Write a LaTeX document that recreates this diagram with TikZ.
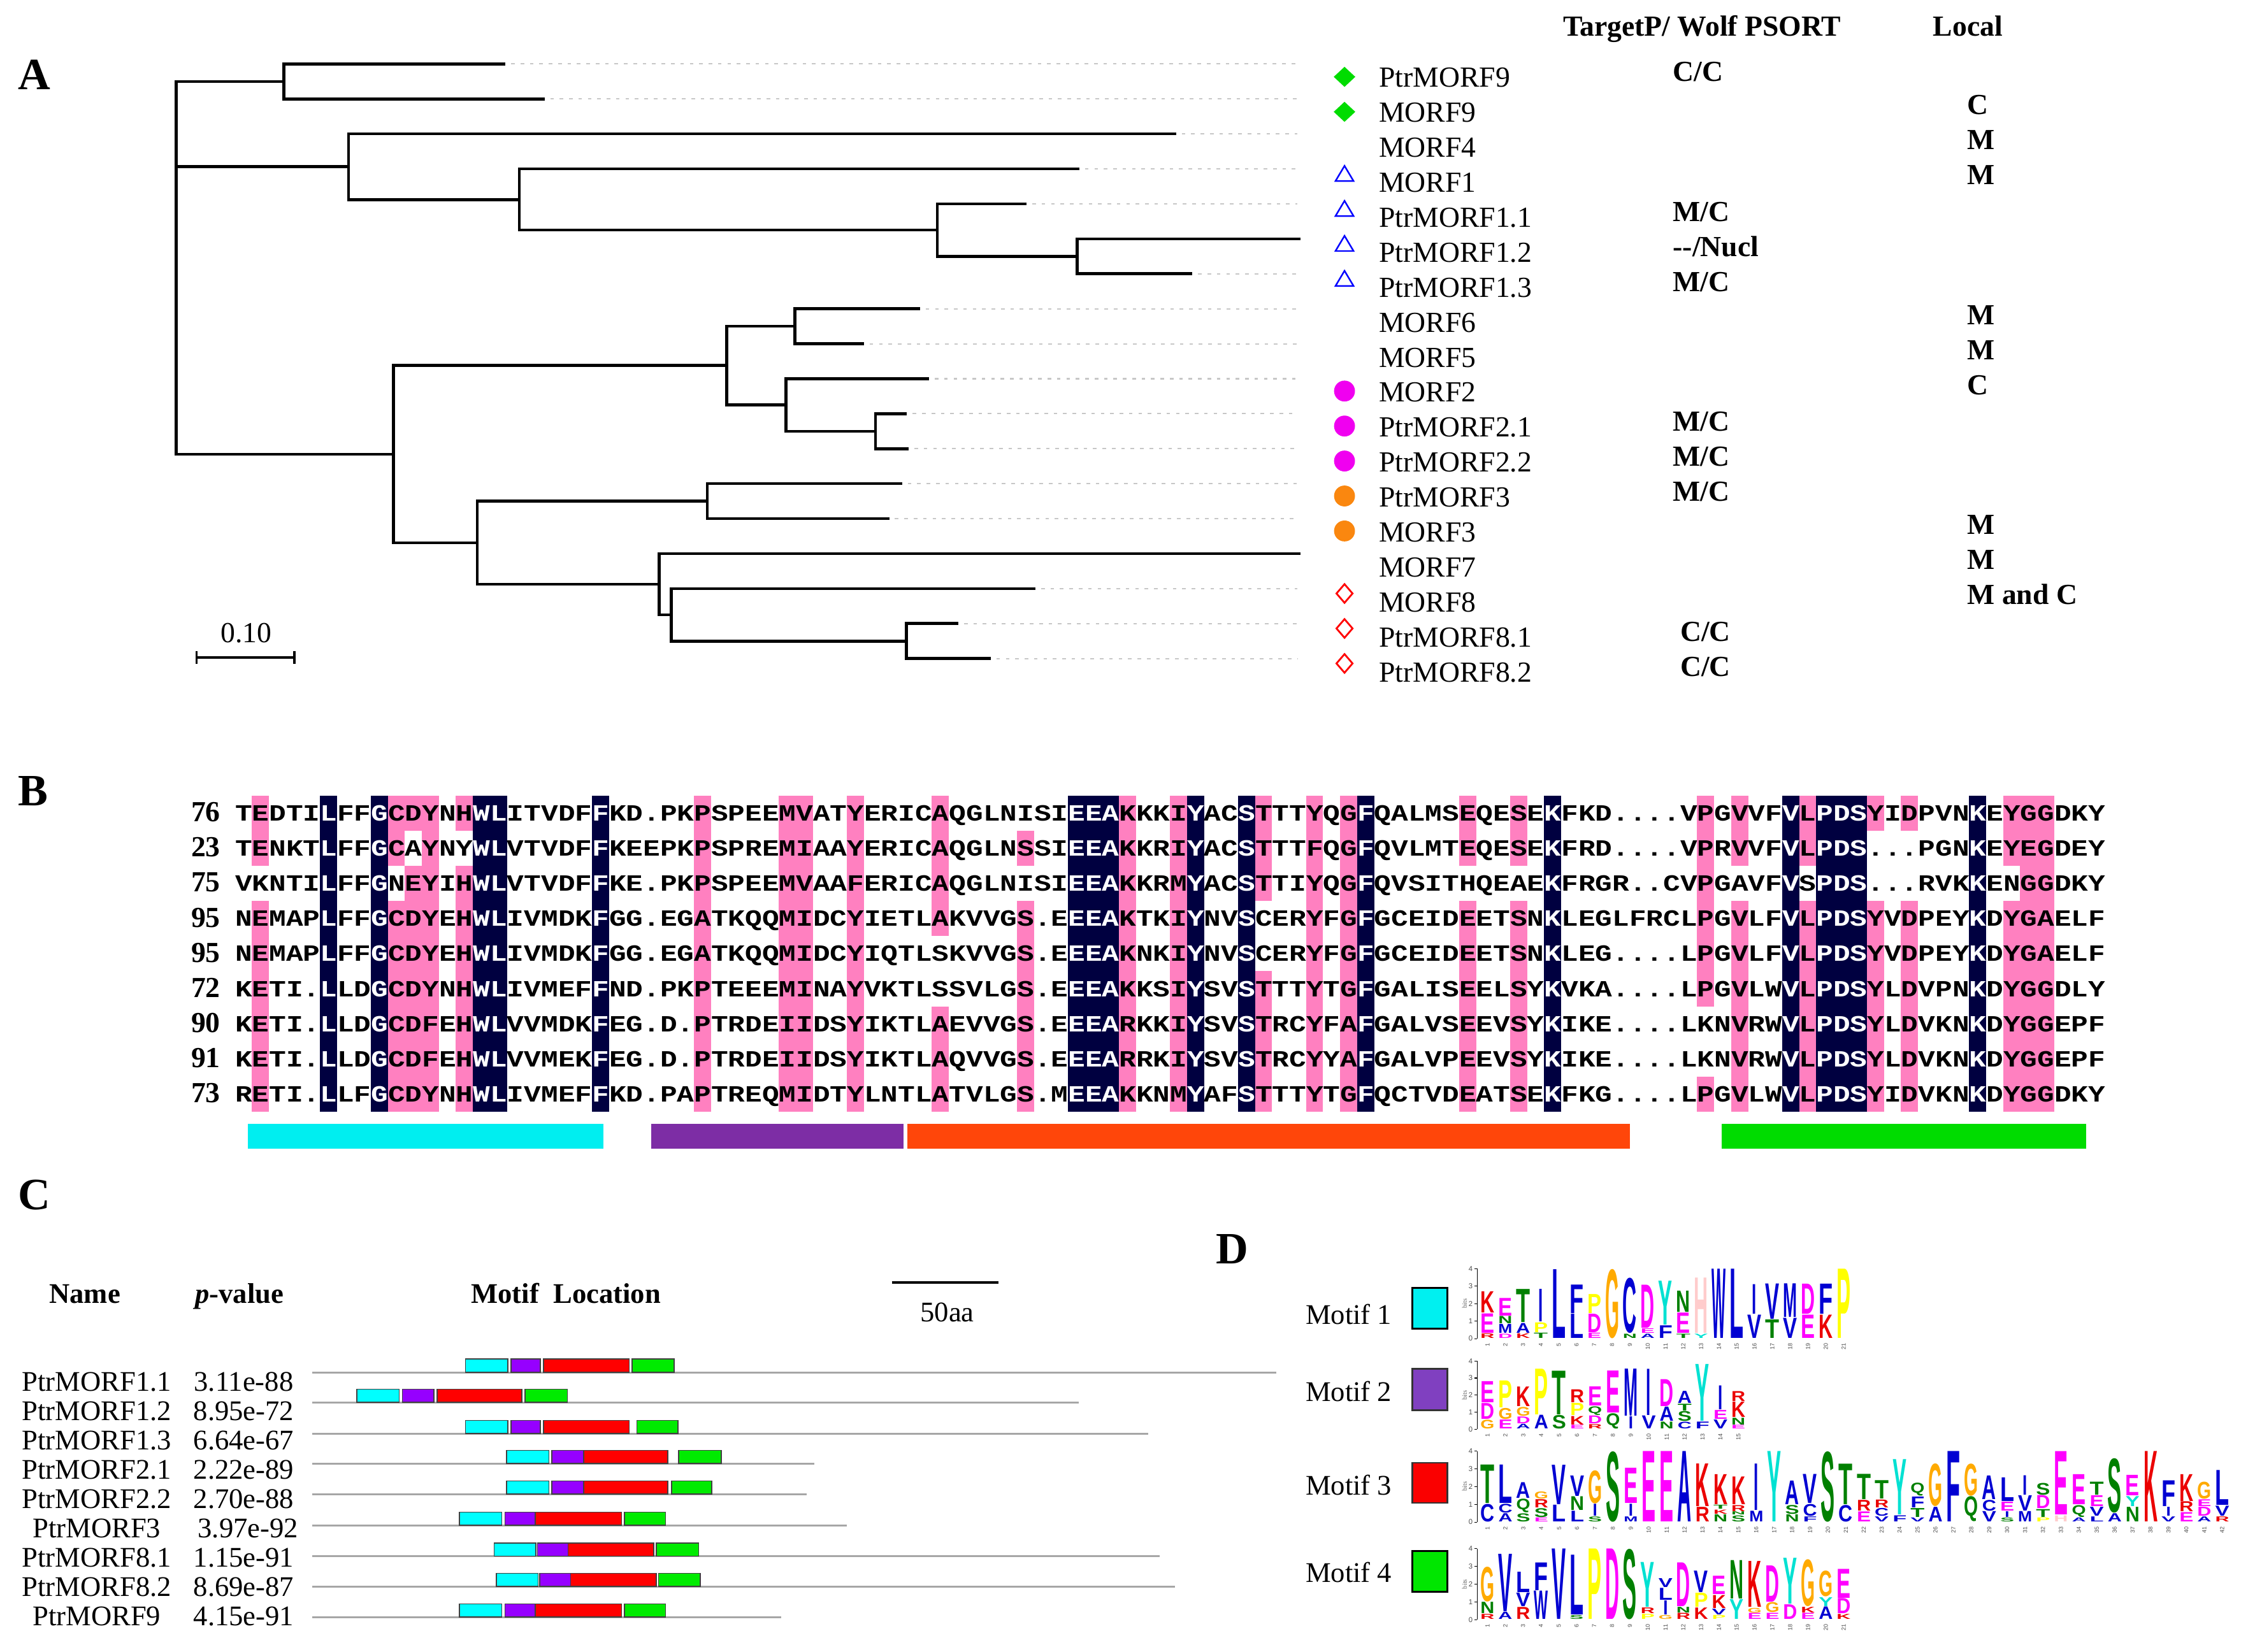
\documentclass[tikz,border=0pt]{standalone}
\usepackage{fontspec}
\setmainfont{Liberation Serif}
\newfontfamily\alnfont{Liberation Mono}
\newfontfamily\logofont{Liberation Sans}

\definecolor{symgreen}{RGB}{0,220,0}
\definecolor{symblue}{RGB}{0,0,255}
\definecolor{symmag}{RGB}{240,0,240}
\definecolor{symorange}{RGB}{250,135,15}
\definecolor{symred}{RGB}{255,0,0}
\definecolor{alnpink}{RGB}{255,128,192}
\definecolor{alnnavy}{RGB}{0,0,64}
\definecolor{barcyan}{RGB}{0,238,240}
\definecolor{barpurple}{RGB}{125,45,165}
\definecolor{barorange}{RGB}{255,70,10}
\definecolor{bargreen}{RGB}{0,220,0}
\definecolor{mcyan}{RGB}{0,255,255}
\definecolor{mpurple}{RGB}{150,0,255}
\definecolor{mred}{RGB}{255,0,0}
\definecolor{mgreen}{RGB}{0,235,0}
\definecolor{dcyan}{RGB}{0,240,240}
\definecolor{dpurple}{RGB}{128,64,192}
\definecolor{dred}{RGB}{250,0,0}
\definecolor{dgreen}{RGB}{0,230,0}
\definecolor{lgblue}{RGB}{0,0,210}
\definecolor{lggreen}{RGB}{0,128,0}
\definecolor{lgmag}{RGB}{255,0,255}
\definecolor{lgred}{RGB}{235,0,0}
\definecolor{lgorange}{RGB}{255,170,0}
\definecolor{lgyellow}{RGB}{255,255,0}
\definecolor{lgcyan}{RGB}{0,225,210}
\definecolor{lgpink}{RGB}{255,204,204}
\colorlet{lgA}{lgblue}\colorlet{lgC}{lgblue}\colorlet{lgF}{lgblue}\colorlet{lgI}{lgblue}
\colorlet{lgL}{lgblue}\colorlet{lgM}{lgblue}\colorlet{lgV}{lgblue}\colorlet{lgW}{lgblue}
\colorlet{lgN}{lggreen}\colorlet{lgQ}{lggreen}\colorlet{lgS}{lggreen}\colorlet{lgT}{lggreen}
\colorlet{lgD}{lgmag}\colorlet{lgE}{lgmag}
\colorlet{lgK}{lgred}\colorlet{lgR}{lgred}
\colorlet{lgG}{lgorange}\colorlet{lgP}{lgyellow}\colorlet{lgY}{lgcyan}\colorlet{lgH}{lgpink}

\newdimen\unitlen \unitlen=0.0225cm

% alignment row typesetting: white letters on the dark columns
\newcount\alncol
\def\setdk#1{\expandafter\def\csname dk#1\endcsname{}}
\setdk{6}\setdk{9}\setdk{15}\setdk{16}\setdk{22}\setdk{50}\setdk{51}\setdk{52}
\setdk{57}\setdk{60}\setdk{67}\setdk{78}\setdk{92}\setdk{94}\setdk{95}\setdk{96}\setdk{103}
\def\alnrow#1{\scalebox{1}[0.82]{\global\alncol=0\relax\alnscan#1\relax}}
\def\alnscan#1{\ifx\relax#1\else\global\advance\alncol by 1\relax\alnput{#1}\expandafter\alnscan\fi}
\def\alnput#1{\ifcsname dk\the\alncol\endcsname\textcolor{white}{#1}\else#1\fi}

\newcommand\cellrect[4]{%
  \pgfmathsetmacro\ca{163.7+(#2-1)*11.86}%
  \pgfmathsetmacro\cb{\ca+11.98}%
  \pgfmathsetmacro\rta{555+(#3-1)*24.5}%
  \pgfmathsetmacro\rtb{555+#4*24.5}%
  \fill[#1] (\ca,\rta) rectangle (\cb,\rtb);}

% sequence logo helpers
\def\lwI{3.2}
\newcommand\logocol[2]{%
  \pgfmathsetmacro\lcx{\lxo+(#1-1)*\lcw+1.2}%
  \xdef\cury{\lbase}%
  \foreach \lt/\bt in {#2}{%
    \ifcsname lw\lt\endcsname\edef\curw{\csname lw\lt\endcsname}\else\def\curw{9.8}\fi
    \pgfmathsetmacro\hpx{\bt*\lbit}%
    \pgfmathsetmacro\hdraw{max(\hpx-0.5,0.3)}%
    \pgfmathsetmacro\curx{\lcx+(9.8-\curw)/2}%
    \node[logol, text=lg\lt] at (\curx,\cury-0.25) {\resizebox*{\curw\unitlen}{\hdraw\unitlen}{\lt}};
    \pgfmathsetmacro\nexty{\cury-\hpx}%
    \xdef\cury{\nexty}%
  }%
  \node[posnum] at (\lcx+4.9,\lbase+3) {#1};
}
\newcommand\logoaxis[2]{%
  \draw[line width=0.4pt] (1030.3,#1) -- (1030.3,#1-4*#2);
  \foreach \k in {0,...,4}{%
    \draw[line width=0.3pt] (1030.3,#1-\k*#2) -- (1028.3,#1-\k*#2);
    \node[ticklab] at (1027.8,#1-\k*#2) {\k};}
  \node[rotate=90, inner sep=0pt, font=\fontsize{3}{3}\selectfont, text=black!60] at (1021.5,#1-2*#2) {bits};
}
\newcommand\motifbox[5]{\filldraw[fill=#1, draw=black!75, line width=0.45pt] (#2,#4-9.4) rectangle (#3,#4-0.2);}
\newcommand\fdia[3]{\fill[#1] (#2,#3-7) -- (#2+7.5,#3) -- (#2,#3+7) -- (#2-7.5,#3) -- cycle;}
\newcommand\hdia[2]{\draw[symred, line width=0.8pt] (#1,#2-6.5) -- (#1+5.6,#2) -- (#1,#2+6.5) -- (#1-5.6,#2) -- cycle;}
\newcommand\tria[2]{\draw[symblue, line width=0.7pt, line join=miter] (#1,#2-5.6) -- (#1+6.3,#2+5) -- (#1-6.3,#2+5) -- cycle;}

\tikzset{
  tree/.style={line width=1.3pt, line cap=rect, line join=miter},
  ext/.style={black!22, line width=0.6pt, dash pattern=on 1.6pt off 2.6pt},
  lbl/.style={anchor=base west, inner sep=0pt, font=\fontsize{13}{15}\selectfont},
  blbl/.style={anchor=base west, inner sep=0pt, font=\bfseries\fontsize{13}{15}\selectfont},
  panel/.style={anchor=base west, inner sep=0pt, font=\bfseries\fontsize{20}{22}\selectfont},
  aln/.style={anchor=base west, inner sep=0pt, font=\alnfont\bfseries\fontsize{12.655}{14}\selectfont},
  alnnum/.style={anchor=base east, inner sep=0pt, font=\bfseries\fontsize{13}{15}\selectfont},
  ctext/.style={anchor=base, inner sep=0pt, font=\fontsize{12.7}{14}\selectfont},
  chead/.style={anchor=base, inner sep=0pt, font=\bfseries\fontsize{12.7}{14}\selectfont},
  logol/.style={anchor=south west, inner sep=0pt, outer sep=0pt, font=\logofont\bfseries},
  posnum/.style={rotate=90, anchor=east, inner sep=0pt, font=\logofont\fontsize{2.6}{2.6}\selectfont, text=black!70},
  ticklab/.style={anchor=east, inner sep=0.2pt, font=\logofont\fontsize{3.2}{3.2}\selectfont, text=black!70},
  cline/.style={black!35, line width=0.9pt},
}

\begin{document}
\begin{tikzpicture}[x=0.0225cm, y=-0.0225cm]
\useasboundingbox (0,0) rectangle (1568,1152);
\fill[white] (0,0) rectangle (1568,1152);

% ================= Panel A =================
\node[panel, name=pA] at (12.5,62.4) {A};

% dotted extensions
\foreach \xe/\i in {351.5/0, 378.8/1, 819.3/2, 751.8/3, 715/4, 830.7/6, 640.7/7, 601.6/8, 647/9, 631.6/10, 632.8/11, 628.2/12, 619.2/13, 721.2/15, 667.4/16, 690/17}
  \draw[ext] (\xe+5,44.6+24.4*\i) -- (905,44.6+24.4*\i);

% tree
\draw[tree] (198,56.8) -- (123,56.8) -- (123,316.8) -- (274.4,316.8);
\draw[tree] (123,116.3) -- (243.2,116.3);
\draw[tree] (351.5,44.6) -- (198,44.6) -- (198,69) -- (378.8,69);
\draw[tree] (819.3,93.4) -- (243.2,93.4) -- (243.2,139.2) -- (362.3,139.2);
\draw[tree] (751.8,117.8) -- (362.3,117.8) -- (362.3,160.5) -- (653.8,160.5);
\draw[tree] (715,142.2) -- (653.8,142.2) -- (653.8,178.8) -- (751.3,178.8);
\draw[tree] (906,166.6) -- (751.3,166.6) -- (751.3,191) -- (830.7,191);
\draw[tree] (506.9,255) -- (274.4,255) -- (274.4,378.6) -- (332.8,378.6);
\draw[tree] (554.5,227.6) -- (506.9,227.6) -- (506.9,282.5) -- (548.3,282.5);
\draw[tree] (640.7,215.4) -- (554.5,215.4) -- (554.5,239.8) -- (601.6,239.8);
\draw[tree] (647,264.2) -- (548.3,264.2) -- (548.3,300.8) -- (610.7,300.8);
\draw[tree] (631.6,288.6) -- (610.7,288.6) -- (610.7,313) -- (632.8,313);
\draw[tree] (493.3,349.6) -- (332.8,349.6) -- (332.8,407.6) -- (459.8,407.6);
\draw[tree] (628.2,337.4) -- (493.3,337.4) -- (493.3,361.8) -- (619.2,361.8);
\draw[tree] (906,386.2) -- (459.8,386.2) -- (459.8,428.9) -- (468.3,428.9);
\draw[tree] (721.2,410.6) -- (468.3,410.6) -- (468.3,447.2) -- (632.2,447.2);
\draw[tree] (667.4,435) -- (632.2,435) -- (632.2,459.4) -- (690,459.4);

% scale bar
\draw[line width=1.2pt] (137.2,458.7) -- (205.3,458.7);
\draw[line width=1pt] (137.2,454.2) -- (137.2,463.2);
\draw[line width=1pt] (205.3,454.2) -- (205.3,463.2);
\node[anchor=base, inner sep=0pt, font=\fontsize{13}{15}\selectfont, name=sbl] at (171.8,448) {0.10};

% leaf labels
\foreach \i/\nm in {0/PtrMORF9, 1/MORF9, 2/MORF4, 3/MORF1, 4/PtrMORF1.1, 5/PtrMORF1.2, 6/PtrMORF1.3, 7/MORF6, 8/MORF5, 9/MORF2, 10/PtrMORF2.1, 11/PtrMORF2.2, 12/PtrMORF3, 13/MORF3, 14/MORF7, 15/MORF8, 16/PtrMORF8.1, 17/PtrMORF8.2}
  \node[lbl, name=leaf\i] at (961.6,60.8+24.4*\i) {\nm};

% symbols
\fdia{symgreen}{937.8}{53.6}
\fdia{symgreen}{937.8}{78}
\tria{937.8}{121.3}
\tria{937.8}{145.7}
\tria{937.8}{170.1}
\tria{937.8}{194.5}
\fill[symmag] (937.8,272.8) circle (7.3);
\fill[symmag] (937.8,297.2) circle (7.3);
\fill[symmag] (937.8,321.6) circle (7.3);
\fill[symorange] (937.8,346) circle (7.3);
\fill[symorange] (937.8,370.4) circle (7.3);
\hdia{937.8}{414}
\hdia{937.8}{438.4}
\hdia{937.8}{462.8}

% headers
\node[blbl, name=hTP] at (1090,25) {TargetP/ Wolf PSORT};
\node[blbl, name=hLoc] at (1348,25) {Local};

% TargetP / Wolf PSORT
\node[blbl, name=tp0] at (1166.6,56.8) {C/C};
\node[blbl, name=tp4] at (1166.6,154.4) {M/C};
\node[blbl, name=tp5] at (1166.6,178.8) {-{}-/Nucl};
\node[blbl, name=tp6] at (1166.6,203.2) {M/C};
\node[blbl, name=tp10] at (1166.6,300.8) {M/C};
\node[blbl, name=tp11] at (1166.6,325.2) {M/C};
\node[blbl, name=tp12] at (1166.6,349.6) {M/C};
\node[blbl, name=tp16] at (1171.8,447.2) {C/C};
\node[blbl, name=tp17] at (1171.8,471.6) {C/C};

% Local
\node[blbl, name=lo1] at (1371.9,79.9) {C};
\node[blbl, name=lo2] at (1371.9,104.3) {M};
\node[blbl, name=lo3] at (1371.9,128.7) {M};
\node[blbl, name=lo7] at (1371.9,226.3) {M};
\node[blbl, name=lo8] at (1371.9,250.7) {M};
\node[blbl, name=lo9] at (1371.9,275.1) {C};
\node[blbl, name=lo13] at (1371.9,372.7) {M};
\node[blbl, name=lo14] at (1371.9,397.1) {M};
\node[blbl, name=lo15] at (1371.9,421.5) {M and C};

% ================= Panel B =================
\node[panel, name=pB] at (12.5,562) {B};

\foreach \cc/\rA/\rB in {2/1/2, 2/4/9, 10/1/2, 10/4/9, 11/1/1, 11/3/9, 12/1/9, 14/1/1, 14/3/9, 28/1/9, 33/1/9, 34/1/9, 37/1/9, 42/1/4, 42/7/9, 47/2/2, 47/4/9, 53/1/9, 56/1/9, 61/1/3, 61/6/9, 64/1/9, 66/1/9, 73/1/2, 73/4/9, 76/1/2, 76/4/9, 87/1/6, 87/9/9, 89/1/2, 89/4/9, 93/1/2, 93/4/9, 97/1/1, 97/4/9, 99/1/1, 99/4/9, 105/1/2, 105/4/9, 106/1/9, 107/1/9}
  {\cellrect{alnpink}{\cc}{\rA}{\rB}}
\foreach \cc in {6,9,15,16,22,50,51,52,57,60,67,78,92,94,95,96,103}
  {\cellrect{alnnavy}{\cc}{1}{9}}

\node[alnnum, name=n1] at (154,573.2) {76};
\node[alnnum, name=n2] at (154,597.7) {23};
\node[alnnum, name=n3] at (154,622.2) {75};
\node[alnnum, name=n4] at (154,646.7) {95};
\node[alnnum, name=n5] at (154,671.2) {95};
\node[alnnum, name=n6] at (154,695.7) {72};
\node[alnnum, name=n7] at (154,720.2) {90};
\node[alnnum, name=n8] at (154,744.7) {91};
\node[alnnum, name=n9] at (154,769.2) {73};

\node[aln, name=s1] at (163.7,572.6) {\alnrow{TEDTILFFGCDYNHWLITVDFFKD.PKPSPEEMVATYERICAQGLNISIEEAKKKIYACSTTTYQGFQALMSEQESEKFKD....VPGVVFVLPDSYIDPVNKEYGGDKY}};
\node[aln, name=s2] at (163.7,597.1) {\alnrow{TENKTLFFGCAYNYWLVTVDFFKEEPKPSPREMIAAYERICAQGLNSSIEEAKKRIYACSTTTFQGFQVLMTEQESEKFRD....VPRVVFVLPDS...PGNKEYEGDEY}};
\node[aln, name=s3] at (163.7,621.6) {\alnrow{VKNTILFFGNEYIHWLVTVDFFKE.PKPSPEEMVAAFERICAQGLNISIEEAKKRMYACSTTIYQGFQVSITHQEAEKFRGR..CVPGAVFVSPDS...RVKKENGGDKY}};
\node[aln, name=s4] at (163.7,646.1) {\alnrow{NEMAPLFFGCDYEHWLIVMDKFGG.EGATKQQMIDCYIETLAKVVGS.EEEAKTKIYNVSCERYFGFGCEIDEETSNKLEGLFRCLPGVLFVLPDSYVDPEYKDYGAELF}};
\node[aln, name=s5] at (163.7,670.6) {\alnrow{NEMAPLFFGCDYEHWLIVMDKFGG.EGATKQQMIDCYIQTLSKVVGS.EEEAKNKIYNVSCERYFGFGCEIDEETSNKLEG....LPGVLFVLPDSYVDPEYKDYGAELF}};
\node[aln, name=s6] at (163.7,695.1) {\alnrow{KETI.LLDGCDYNHWLIVMEFFND.PKPTEEEMINAYVKTLSSVLGS.EEEAKKSIYSVSTTTYTGFGALISEELSYKVKA....LPGVLWVLPDSYLDVPNKDYGGDLY}};
\node[aln, name=s7] at (163.7,719.6) {\alnrow{KETI.LLDGCDFEHWLVVMDKFEG.D.PTRDEIIDSYIKTLAEVVGS.EEEARKKIYSVSTRCYFAFGALVSEEVSYKIKE....LKNVRWVLPDSYLDVKNKDYGGEPF}};
\node[aln, name=s8] at (163.7,744.1) {\alnrow{KETI.LLDGCDFEHWLVVMEKFEG.D.PTRDEIIDSYIKTLAQVVGS.EEEARRKIYSVSTRCYYAFGALVPEEVSYKIKE....LKNVRWVLPDSYLDVKNKDYGGEPF}};
\node[aln, name=s9] at (163.7,768.6) {\alnrow{RETI.LLFGCDYNHWLIVMEFFKD.PAPTREQMIDTYLNTLATVLGS.MEEAKKNMYAFSTTTYTGFQCTVDEATSEKFKG....LPGVLWVLPDSYIDVKNKDYGGDKY}};

\fill[barcyan] (173,784) rectangle (421,801.5);
\fill[barpurple] (454,784) rectangle (630,801.5);
\fill[barorange] (633,784) rectangle (1137,801.5);
\fill[bargreen] (1201,784) rectangle (1455,801.5);

% ================= Panel C =================
\node[panel, name=pC] at (12.5,843.8) {C};
\node[chead, name=cN] at (59.2,909.3) {Name};
\node[chead, name=cP] at (167,909.3) {\textit{p}-value};
\node[chead, name=cM] at (394.7,909.3) {Motif\ \ Location};
\draw[line width=1.1pt] (622,894.7) -- (696.3,894.7);
\node[ctext, name=c50] at (660.7,922) {50aa};

\draw[cline] (217.6,957.4) -- (890,957.4);
\draw[cline] (217.6,978.5) -- (752.3,978.5);
\draw[cline] (217.6,1000.3) -- (800.8,1000.3);
\draw[cline] (217.6,1021.1) -- (568.1,1021.1);
\draw[cline] (217.6,1042.5) -- (562.7,1042.5);
\draw[cline] (217.6,1064.3) -- (590.7,1064.3);
\draw[cline] (217.6,1085.7) -- (808.8,1085.7);
\draw[cline] (217.6,1106.9) -- (819.6,1106.9);
\draw[cline] (217.6,1128.3) -- (545,1128.3);

\foreach \yl/\ca/\cb/\pa/\pb/\ra/\rb/\ga/\gb in {
  957.4/324.7/354.3/356.5/377/379.1/438.9/441/470.1,
  978.5/248.8/278.4/280.6/302.6/304.8/364/366.2/395.8,
  1000.3/324.7/354.3/356.5/377/379.1/438.9/444.3/472.8,
  1021.1/353.3/382.9/385/407.1/407.1/465.8/473.3/503,
  1042.5/353.3/382.9/385/407.1/407.1/465.8/468.5/496.5,
  1064.3/320.4/350/352.2/373.2/373.2/433.5/435.6/464.2,
  1085.7/344.6/373.7/374.8/396.3/396.3/456.1/457.7/487.3,
  1106.9/346.3/375.3/376.4/398/398/457.7/459.3/488.4,
  1128.3/320.4/350/352.2/373.2/373.2/433.5/435.6/464.2}{
  \motifbox{mcyan}{\ca}{\cb}{\yl}{}
  \motifbox{mpurple}{\pa}{\pb}{\yl}{}
  \motifbox{mred}{\ra}{\rb}{\yl}{}
  \motifbox{mgreen}{\ga}{\gb}{\yl}{}
}

\foreach \i/\nm/\pv/\px in {1/PtrMORF1.1/3.11e-88/170, 2/PtrMORF1.2/8.95e-72/170, 3/PtrMORF1.3/6.64e-67/170, 4/PtrMORF2.1/2.22e-89/170, 5/PtrMORF2.2/2.70e-88/170, 6/PtrMORF3/3.97e-92/173, 7/PtrMORF8.1/1.15e-91/170, 8/PtrMORF8.2/8.69e-87/170, 9/PtrMORF9/4.15e-91/170}{
  \node[ctext, name=cn\i] at (67.5,970.4+20.47*\i-20.47) {\nm};
  \node[ctext, name=cp\i] at (\px,970.4+20.47*\i-20.47) {\pv};
}

% ================= Panel D =================
\node[panel, name=pD] at (848,881.6) {D};
\node[anchor=base west, inner sep=0pt, font=\fontsize{12.7}{14}\selectfont, name=dm1] at (910.4,923.6) {Motif 1};
\node[anchor=base west, inner sep=0pt, font=\fontsize{12.7}{14}\selectfont, name=dm2] at (910.4,977.4) {Motif 2};
\node[anchor=base west, inner sep=0pt, font=\fontsize{12.7}{14}\selectfont, name=dm3] at (910.4,1042.9) {Motif 3};
\node[anchor=base west, inner sep=0pt, font=\fontsize{12.7}{14}\selectfont, name=dm4] at (910.4,1103.6) {Motif 4};
\filldraw[fill=dcyan, draw=black, line width=0.8pt] (985.2,898.6) rectangle (1009.6,927);
\filldraw[fill=dpurple, draw=black!80, line width=0.8pt] (985.2,954.9) rectangle (1009.6,983.9);
\filldraw[fill=dred, draw=black!80, line width=0.8pt] (985.2,1020.4) rectangle (1009.6,1048.4);
\filldraw[fill=dgreen, draw=black, line width=0.8pt] (985.2,1082) rectangle (1009.6,1110.4);

% Motif 1 logo
\def\lxo{1031.4}\def\lcw{12.42}\def\lbase{933.8}\def\lbit{12.2}
\logoaxis{933.8}{12.2}
\logocol{1}{R/0.3,E/1.15,K/1.25}
\logocol{2}{D/0.28,M/0.55,N/0.46,E/1.05}
\logocol{3}{K/0.3,A/0.6,T/1.93}
\logocol{4}{T/0.34,P/0.6,I/1.9}
\logocol{5}{L/3.97}
\logocol{6}{L/1.43,F/1.67}
\logocol{7}{E/0.34,D/1.1,P/1.13}
\logocol{8}{G/4}
\logocol{9}{N/0.28,C/3.2}
\logocol{10}{A/0.28,E/0.3,D/2.5}
\logocol{11}{F/0.76,Y/2.55}
\logocol{12}{T/0.28,E/1.2,N/1.25}
\logocol{13}{Y/0.28,H/3.2}
\logocol{14}{W/4}
\logocol{15}{L/4}
\logocol{16}{V/1.37,I/1.73}
\logocol{17}{T/1.1,V/2.06}
\logocol{18}{V/1.19,M/1.96}
\logocol{19}{E/1.37,D/1.76}
\logocol{20}{K/1.37,F/1.76}
\logocol{21}{P/4}

% Motif 2 logo
\def\lxo{1031.4}\def\lcw{12.5}\def\lbase{997}\def\lbit{11.9}
\logoaxis{997}{11.9}
\logocol{1}{G/0.56,D/0.97,E/1.28}
\logocol{2}{E/0.56,G/0.69,P/1.62}
\logocol{3}{A/0.31,D/0.44,G/0.56,K/1.19}
\logocol{4}{A/0.84,P/2.72}
\logocol{5}{S/0.84,T/2.6}
\logocol{6}{E/0.25,K/0.54,P/0.75,R/0.8}
\logocol{7}{R/0.29,D/0.5,Q/0.55,E/1.16}
\logocol{8}{Q/0.94,E/2.5}
\logocol{9}{I/0.75,M/2.8}
\logocol{10}{V/0.8,I/2.75}
\logocol{11}{N/0.44,A/0.87,D/1.62}
\logocol{12}{C/0.44,S/0.62,T/0.44,A/0.75}
\logocol{13}{F/0.44,Y/3.37}
\logocol{14}{V/0.56,E/0.56,I/1.44}
\logocol{15}{E/0.25,N/0.44,K/0.94,R/0.62}

% Motif 3 logo
\def\lxo{1031.4}\def\lcw{12.5}\def\lbase{1061.8}\def\lbit{12.4}
\logoaxis{1061.8}{12.4}
\logocol{1}{C/1.04,T/2.2}
\logocol{2}{A/0.5,C/0.54,L/2.2}
\logocol{3}{S/0.5,Q/0.81,A/0.92}
\logocol{4}{E/0.26,S/0.54,R/0.5,G/0.44}
\logocol{5}{L/0.98,V/2.26}
\logocol{6}{L/0.64,N/0.81,V/1.19}
\logocol{7}{S/0.32,I/0.71,G/1.9}
\logocol{8}{S/4}
\logocol{9}{M/0.32,I/0.71,E/2.02}
\logocol{10}{E/4}
\logocol{11}{E/4}
\logocol{12}{A/4}
\logocol{13}{R/0.86,K/2.44}
\logocol{14}{N/0.44,K/0.27,T/0.26,K/1.73}
\logocol{15}{S/0.38,N/0.21,R/0.38,K/1.6}
\logocol{16}{M/0.64,I/2.65}
\logocol{17}{Y/4}
\logocol{18}{N/0.44,S/0.54,A/1.37}
\logocol{19}{F/0.32,C/0.71,V/1.67}
\logocol{20}{S/4}
\logocol{21}{C/0.98,T/2.32}
\logocol{22}{E/0.6,R/0.64,T/1.46}
\logocol{23}{V/0.32,C/0.48,R/0.48,T/1.07}
\logocol{24}{F/0.38,Y/3.15}
\logocol{25}{V/0.26,T/0.54,F/0.65,Q/0.77}
\logocol{26}{A/0.86,G/2.44}
\logocol{27}{F/4}
\logocol{28}{Q/1.45,G/1.85}
\logocol{29}{V/0.62,C/0.65,A/1.37}
\logocol{30}{S/0.26,I/0.36,E/0.54,L/1.37}
\logocol{31}{M/0.62,V/0.9,I/1.13}
\logocol{32}{P/0.26,T/0.48,D/0.77,S/0.71}
\logocol{33}{H/0.38,E/3.6}
\logocol{34}{A/0.26,Q/0.71,E/1.73}
\logocol{35}{L/0.32,V/0.54,E/0.65,T/0.77}
\logocol{36}{A/0.5,S/3.1}
\logocol{37}{N/0.86,Y/0.6,E/1.19}
\logocol{38}{K/4}
\logocol{39}{V/0.32,I/0.54,F/1.49}
\logocol{40}{E/0.56,R/0.6,K/1.55}
\logocol{41}{A/0.32,D/0.54,E/0.42,G/1.0}
\logocol{42}{R/0.32,V/0.6,L/2.0}

% Motif 4 logo
\def\lxo{1031.4}\def\lcw{12.42}\def\lbase{1129.9}\def\lbit{12.4}
\logoaxis{1129.9}{12.4}
\logocol{1}{R/0.32,N/0.68,G/2.0}
\logocol{2}{A/0.44,V/3.27}
\logocol{3}{R/0.71,V/0.8,L/1.19}
\logocol{4}{W/1.63,F/1.6}
\logocol{5}{V/4}
\logocol{6}{S/0.26,L/3.4}
\logocol{7}{P/4}
\logocol{8}{D/4}
\logocol{9}{S/4}
\logocol{10}{P/0.32,R/0.36,Y/2.56}
\logocol{11}{G/0.26,I/0.83,L/0.71,V/0.54}
\logocol{12}{R/0.38,N/0.36,D/2.5}
\logocol{13}{K/0.68,P/0.83,V/1.25}
\logocol{14}{P/0.26,V/0.36,K/0.77,E/1.07}
\logocol{15}{Y/1.15,N/2.2}
\logocol{16}{E/0.38,G/0.3,K/2.62}
\logocol{17}{E/0.38,G/0.6,D/2.08}
\logocol{18}{D/0.86,Y/2.62}
\logocol{19}{E/0.38,K/0.36,G/2.68}
\logocol{20}{A/0.74,Y/0.54,G/1.49}
\logocol{21}{K/0.32,D/0.89,E/1.67}

\end{tikzpicture}
\end{document}
